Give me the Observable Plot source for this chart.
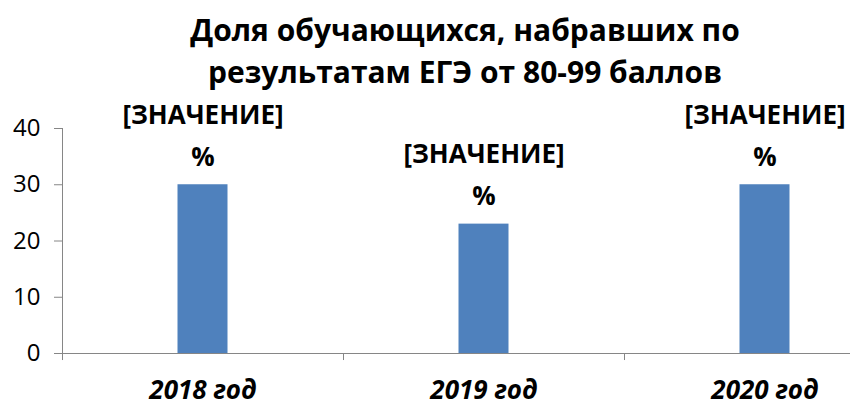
<!DOCTYPE html>
<html>
<head>
<meta charset="utf-8">
<script src="https://cdn.jsdelivr.net/npm/d3@7"></script>
<script src="https://cdn.jsdelivr.net/npm/@observablehq/plot@0.6"></script>
<style>
  html, body { margin: 0; padding: 0; background: #fff; }
  #wrap { position: relative; width: 850px; height: 407px; overflow: hidden; }
  #title { position: absolute; left: 0; top: 9px; width: 930px; text-align: center;
    font-family: "Open Sans", sans-serif; font-weight: bold; font-size: 30px; line-height: 42px; color: #000; }
  #chart { position: absolute; left: 0; top: 0; }
</style>
</head>
<body>
<div id="wrap">
  <div id="chart"></div>
  <div id="title">Доля обучающихся, набравших по<br>результатам ЕГЭ от 80-99 баллов</div>
</div>
<script>
const years = ["2018 год", "2019 год", "2020 год"];
const values = [30, 23, 30];
const labels = ["[ЗНАЧЕНИЕ]\n%", "[ЗНАЧЕНИЕ]\n%", "[ЗНАЧЕНИЕ]\n%"];
const yTicks = [0, 10, 20, 30, 40];

const data = years.map((y, i) => ({year: y, value: values[i], label: labels[i]}));
const font = "Open Sans, sans-serif";
const axisColor = "#868686";

const chart = Plot.plot({
  width: 850,
  height: 407,
  marginLeft: 62,
  marginRight: 0,
  marginTop: 128,
  marginBottom: 54,
  style: {fontFamily: font, background: "transparent"},
  x: {type: "band", domain: years, range: [62, 905], padding: 0},
  y: {domain: [0, 40]},
  marks: [
    Plot.barY(data, {x: "year", y: "value", fill: "#4F81BD", insetLeft: 115.5, insetRight: 115.5}),
    Plot.frame({anchor: "left", stroke: axisColor}),
    Plot.ruleY([0], {stroke: axisColor}),
    Plot.ruleX(data, {x: "year", y1: 0, y2: -1.25, dx: -140.5, stroke: axisColor}),
    Plot.axisY({ticks: yTicks, tickSize: 8, tickPadding: 14, fontSize: 24, stroke: axisColor, fill: "#000", label: null}),
    Plot.axisX({tickSize: 0, tickPadding: 27, fontSize: 26, fontWeight: "bold", fontStyle: "italic", fill: "#000", label: null, textAnchor: "middle"}),
    Plot.text(data, {x: "year", y: "value", text: "label", lineAnchor: "bottom", dy: -19, lineHeight: 1.62, fontSize: 26, fontWeight: "bold", fill: "#000"})
  ]
});
document.getElementById("chart").appendChild(chart);
</script>
</body>
</html>
